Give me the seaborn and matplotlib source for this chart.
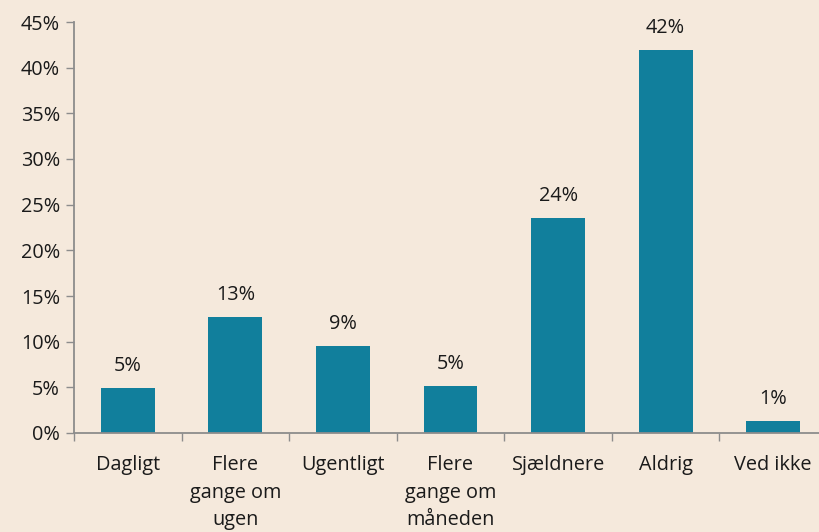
import numpy as np
import matplotlib
matplotlib.use("Agg")
import matplotlib.pyplot as plt
import seaborn as sns
from matplotlib.ticker import FixedLocator, NullFormatter

# data
categories = ["Dagligt", "Flere\ngange om\nugen", "Ugentligt", "Flere\ngange om\nmåneden",
              "Sjældnere", "Aldrig", "Ved ikke"]
shares = [4.9, 12.7, 9.5, 5.1, 23.5, 41.9, 1.3]
labels = ["5%", "13%", "9%", "5%", "24%", "42%", "1%"]

bg = "#F5E9DC"
bar_color = "#117F9C"
axis_grey = "#8C8C8C"
fs = 14.3

sns.set_theme(style="white")
plt.rcParams['font.family'] = ['Open Sans', 'DejaVu Sans']

fig = plt.figure(figsize=(8.2, 5.32), dpi=100, facecolor=bg)
ax = fig.add_axes([74 / 820, 99 / 532, 753 / 820, 411 / 532])
ax.set_facecolor(bg)

sns.barplot(x=list(range(len(categories))), y=shares, color=bar_color,
            width=0.5, saturation=1, linewidth=0, ax=ax)

for i, (v, lab) in enumerate(zip(shares, labels)):
    ax.annotate(lab, (i, v), xytext=(0, 16), textcoords="offset points",
                ha="center", va="center", fontsize=fs, color="#1a1a1a")

ax.set_xlim(-0.5, len(categories) - 0.5)
ax.set_ylim(0, 45)
ax.set_yticks(np.arange(0, 46, 5))
ax.set_yticklabels([f"{t}%" for t in range(0, 46, 5)], color="#1a1a1a", fontsize=fs)

ax.set_xticks(range(len(categories)))
ax.set_xticklabels(categories, color="#1a1a1a", fontsize=fs, linespacing=1.5, va="top")
ax.tick_params(axis="x", which="major", length=0, pad=16)
ax.xaxis.set_minor_locator(FixedLocator(np.arange(-0.5, len(categories), 1)))
ax.xaxis.set_minor_formatter(NullFormatter())
ax.tick_params(axis="x", which="minor", length=6, width=1, color=axis_grey, direction="out", bottom=True)
ax.tick_params(axis="y", length=6, width=1, color=axis_grey, direction="out", left=True, pad=4)

for s in ["top", "right"]:
    ax.spines[s].set_visible(False)
for s in ["left", "bottom"]:
    ax.spines[s].set_color(axis_grey)
    ax.spines[s].set_linewidth(1.3)

ax.set_xlabel("")
ax.set_ylabel("")

fig.savefig("out.png", dpi=100, facecolor=bg)
